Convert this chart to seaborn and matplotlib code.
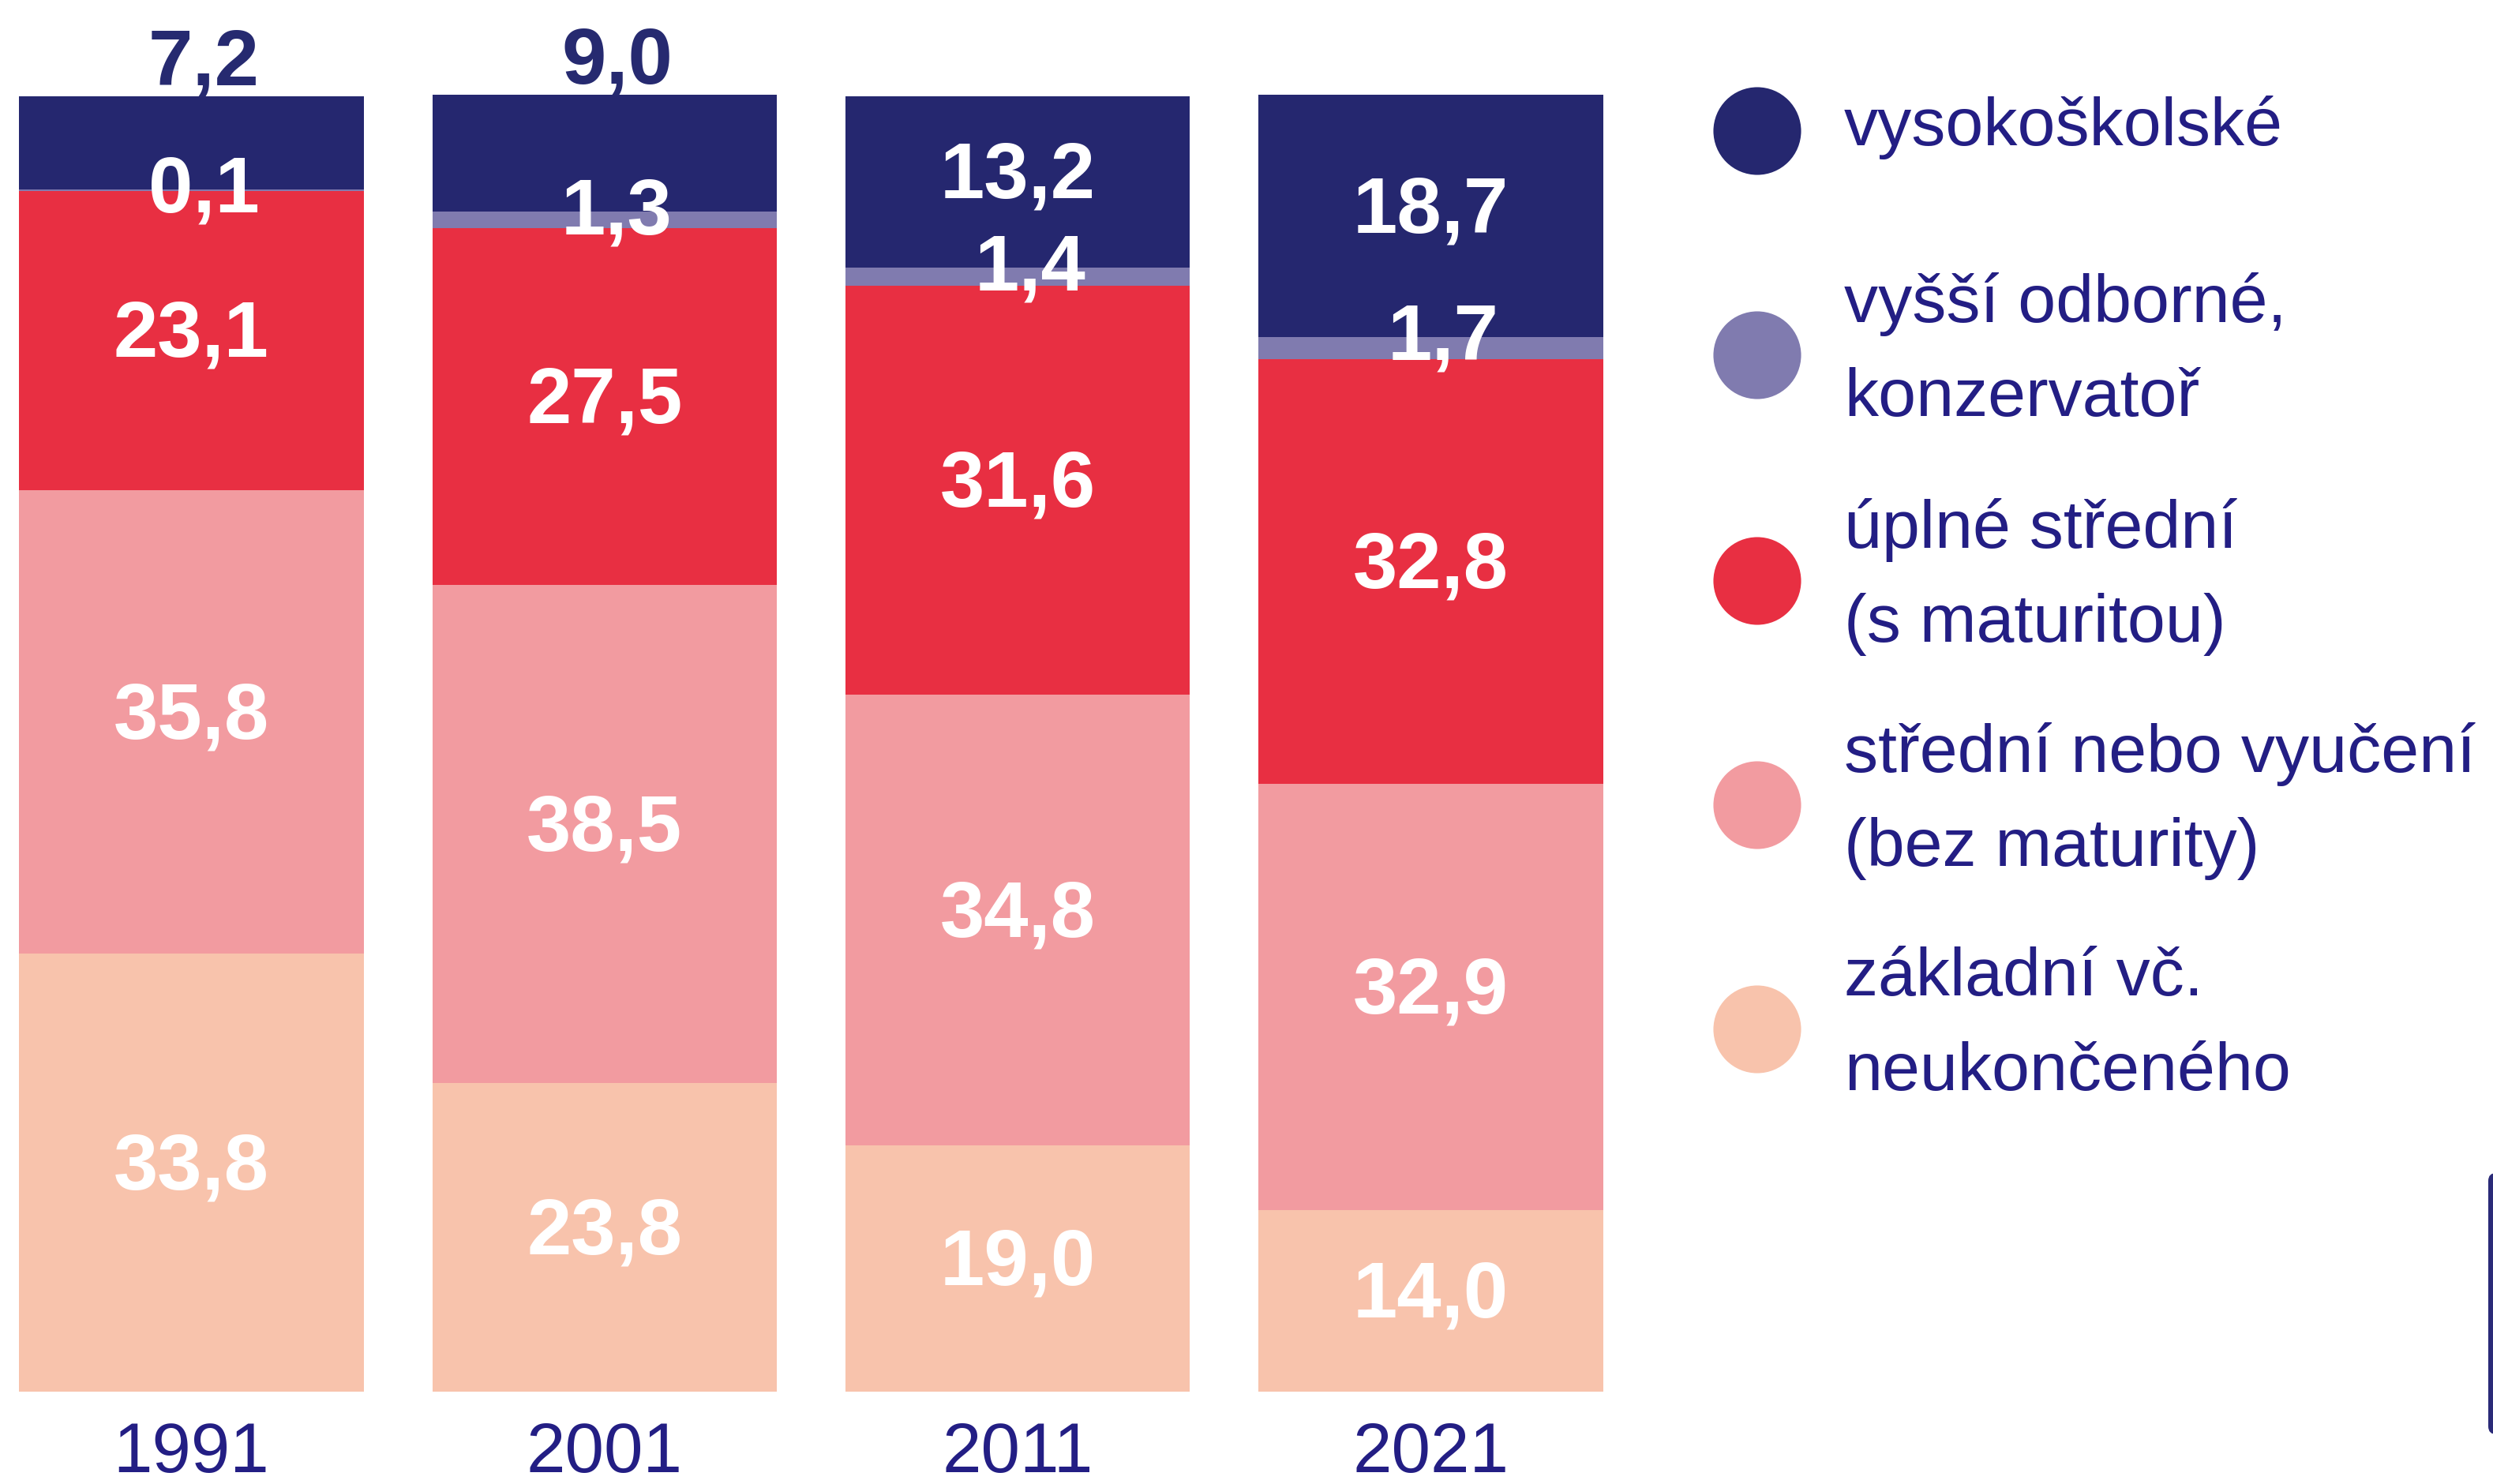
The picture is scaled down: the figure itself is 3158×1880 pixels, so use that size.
import matplotlib
matplotlib.use('Agg')
import numpy as np
import matplotlib.pyplot as plt
import seaborn as sns
from matplotlib.patches import FancyBboxPatch

years = ['1991', '2001', '2011', '2021']
zakladni = [33.8, 23.8, 19.0, 14.0]
stredni_bez = [35.8, 38.5, 34.8, 32.9]
uplne_stredni = [23.1, 27.5, 31.6, 32.8]
vyssi_odborne = [0.1, 1.3, 1.4, 1.7]
vysokoskolske = [7.2, 9.0, 13.2, 18.7]

legend_labels = ['vysokoškolské', 'vyšší odborné,\nkonzervatoř', 'úplné střední\n(s maturitou)',
                 'střední nebo vyučení\n(bez maturity)', 'základní vč.\nneukončeného']
legend_colors = ['#25276f', '#807baf', '#e82f42', '#f29ba0', '#f8c3ac']

sns.set_style('white')
plt.rcParams['font.family'] = ['Liberation Sans', 'DejaVu Sans']

navy_text = '#231e84'
navy_num = '#262a70'

fig = plt.figure(figsize=(31.58, 18.81), dpi=100)
ax = fig.add_axes([0, 117 / 1881, 2100 / 3158, 1764 / 1881])

# stacked from bottom to top
series = [zakladni, stredni_bez, uplne_stredni, vyssi_odborne, vysokoskolske]
colors = legend_colors[::-1]
bottom = np.zeros(len(years))
bottoms = []
for vals, col in zip(series, colors):
    sns.barplot(x=years, y=vals, bottom=bottom.copy(), color=col, width=0.834,
                saturation=1, linewidth=0, ax=ax)
    bottoms.append(bottom.copy())
    bottom = bottom + np.array(vals)

fmt = lambda v: f'{v:.1f}'.replace('.', ',')
num_kw = dict(ha='center', va='center', fontsize=73, fontweight='bold', color='white', clip_on=False)

for j in range(len(years)):
    # lower three segments
    for k in range(3):
        v = series[k][j]
        ax.text(j, bottoms[k][j] + v / 2 + 0.4, fmt(v), **num_kw)
    # vyssi odborne: label sits on the top edge of the thin band
    band_top = bottoms[3][j] + vyssi_odborne[j]
    ax.text(j + 0.03, band_top - 0.1, fmt(vyssi_odborne[j]), **num_kw)
    # vysokoskolske
    v = vysokoskolske[j]
    if v < 10:
        ax.text(j + 0.03, bottom[j] + 0.95, fmt(v), ha='center', va='baseline', fontsize=73,
                fontweight='bold', color=navy_num, clip_on=False)
    else:
        ax.text(j, bottoms[4][j] + v / 2 + 0.4, fmt(v), **num_kw)

ax.set_xlim(-0.4634, -0.4634 + 2100 / 523.3)
ax.set_ylim(0, 107.5)
ax.set_yticks([])
ax.set_xlabel('')
ax.set_ylabel('')
ax.tick_params(axis='x', length=0, pad=26, labelsize=64, labelcolor=navy_text)
sns.despine(ax=ax, left=True, bottom=True)

# legend drawn on an overlay in pixel coordinates
lax = fig.add_axes([0, 0, 1, 1])
lax.set_xlim(0, 3158)
lax.set_ylim(1881, 0)
lax.axis('off')
leg_y = [167, 451, 737, 1021, 1305]
lax.scatter([2226] * 5, leg_y, s=80 ** 2, c=legend_colors, linewidths=0)
for y, lab in zip(leg_y, legend_labels):
    lax.text(2336, y - 6, lab, ha='left', va='center', fontsize=62, color=navy_text, linespacing=1.64)

# edge of the next panel cut off at the right border
lax.add_patch(FancyBboxPatch((3152, 1487), 60, 331, boxstyle='round,pad=0,rounding_size=10',
                             facecolor='#2a2a78', edgecolor='none'))

fig.savefig('out.png', dpi=100)
